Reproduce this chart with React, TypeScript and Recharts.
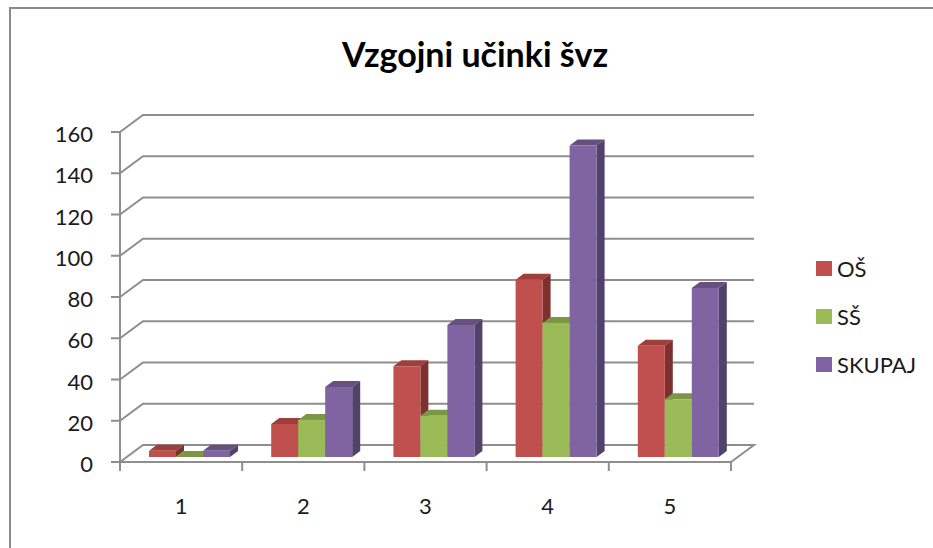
import React from "react";
import { BarChart, Bar, XAxis, YAxis, CartesianGrid } from "recharts";

const categories = ["1", "2", "3", "4", "5"];
const osValues = [3, 16, 44, 86, 54];
const ssValues = [0, 18, 20, 65, 28];
const skupajValues = [3, 34, 64, 151, 82];
const yTicks = [0, 20, 40, 60, 80, 100, 120, 140, 160];

const series = [
  { key: "os", name: "OŠ", front: "#C0504D", top: "#9E3F3C", side: "#7E302E" },
  { key: "ss", name: "SŠ", front: "#9BBB59", top: "#7B9745", side: "#6F8A3A" },
  { key: "skupaj", name: "SKUPAJ", front: "#8064A2", top: "#65507F", side: "#52416A" },
];

const data = categories.map((cat, i) => ({
  cat,
  os: osValues[i],
  ss: ssValues[i],
  skupaj: skupajValues[i],
}));

const FONT = "Lato, 'Open Sans', sans-serif";
const GRID = "#8e8e8e";
const TEXT = "#1a1a1a";
// back wall offset of the 3d box
const WALL_X = 23;
const WALL_Y = 17;
// columns sit a bit behind the front plane
const SHIFT_X = 8;
const SHIFT_Y = 5;
// column depth
const COL_X = 8;
const COL_Y = 6;

// eslint-disable-next-line @typescript-eslint/no-explicit-any
const Column3D = (props: any) => {
  const { x, y, width, height, colors } = props;
  const fx = x + SHIFT_X;
  const fy = y - SHIFT_Y;
  const h = Math.max(height, 0);
  return (
    <g>
      <polygon
        points={`${fx},${fy} ${fx + width},${fy} ${fx + width + COL_X},${fy - COL_Y} ${fx + COL_X},${fy - COL_Y}`}
        fill={colors.top}
      />
      <polygon
        points={`${fx + width},${fy} ${fx + width + COL_X},${fy - COL_Y} ${fx + width + COL_X},${fy + h - COL_Y} ${fx + width},${fy + h}`}
        fill={colors.side}
      />
      <rect x={fx} y={fy} width={width} height={h} fill={colors.front} />
    </g>
  );
};

// eslint-disable-next-line @typescript-eslint/no-explicit-any
const wallLine = (p: any) => {
  const { x1, y1, x2 } = p;
  const floor = Math.abs(y1 - (p.y + p.height)) < 1;
  let d = `M${x1},${y1} L${x1 + WALL_X},${y1 - WALL_Y} L${x2 + WALL_X},${y1 - WALL_Y}`;
  if (floor) d += ` L${x2},${y1}`;
  return <path key={p.key} d={d} stroke={GRID} strokeWidth={2} fill="none" />;
};

// eslint-disable-next-line @typescript-eslint/no-explicit-any
const YTick = ({ x, y, payload }: any) => (
  <text x={x} y={y} dy={10} textAnchor="end" fontSize={22} fontFamily={FONT} fill={TEXT}>
    {payload.value}
  </text>
);

// category label plus tick marks on the category borders
// eslint-disable-next-line @typescript-eslint/no-explicit-any
const XTick = ({ x, y, payload, index, visibleTicksCount }: any) => {
  const half = payload.offset || 0;
  const last = index === visibleTicksCount - 1;
  return (
    <g>
      <line x1={x - half} y1={y} x2={x - half} y2={y + 9} stroke={GRID} strokeWidth={2} />
      {last && <line x1={x + half} y1={y} x2={x + half} y2={y + 9} stroke={GRID} strokeWidth={2} />}
      <text x={x} y={y} dy={52} textAnchor="middle" fontSize={22} fontFamily={FONT} fill={TEXT}>
        {payload.value}
      </text>
    </g>
  );
};

export default function App() {
  return (
    <div
      style={{
        position: "absolute",
        left: 0,
        top: 0,
        width: 933,
        height: 548,
        background: "#fff",
        overflow: "hidden",
        fontFamily: FONT,
      }}
    >
      <div
        style={{
          position: "absolute",
          left: 9,
          top: 7,
          width: 1000,
          height: 700,
          borderLeft: "2px solid #8a8a8a",
          borderTop: "2px solid #8a8a8a",
        }}
      />
      <div
        style={{
          position: "absolute",
          left: 0,
          width: 950,
          top: 37,
          textAlign: "center",
          fontSize: 34,
          lineHeight: "34px",
          fontWeight: 700,
          color: "#000",
        }}
      >
        Vzgojni učinki švz
      </div>
      <BarChart
        width={933}
        height={548}
        data={data}
        margin={{ top: 132, right: 202, bottom: 0, left: 0 }}
        barGap={0}
        barSize={27}
        style={{ position: "absolute", left: 0, top: 0 }}
      >
        <CartesianGrid vertical={false} horizontal={wallLine} />
        <YAxis
          width={120}
          domain={[0, 160]}
          ticks={yTicks}
          tickSize={9}
          tickMargin={18}
          axisLine={{ stroke: GRID, strokeWidth: 2 }}
          tickLine={{ stroke: GRID, strokeWidth: 2 }}
          tick={<YTick />}
          interval={0}
        />
        <XAxis
          dataKey="cat"
          height={86}
          axisLine={{ stroke: GRID, strokeWidth: 2 }}
          tickLine={false}
          tickSize={0}
          tickMargin={0}
          interval={0}
          tick={<XTick />}
        />
        {series.map((s) => (
          <Bar
            key={s.key}
            dataKey={s.key}
            name={s.name}
            fill={s.front}
            isAnimationActive={false}
            shape={(p: unknown) => <Column3D {...(p as object)} colors={s} />}
          />
        ))}
      </BarChart>
      {series.map((s, i) => (
        <div
          key={s.key}
          style={{
            position: "absolute",
            left: 816,
            top: 256 + i * 48,
            height: 24,
            display: "flex",
            alignItems: "center",
            fontSize: 22,
            color: TEXT,
          }}
        >
          <span style={{ width: 16, height: 15, background: s.front, marginRight: 5 }} />
          {s.name}
        </div>
      ))}
    </div>
  );
}
